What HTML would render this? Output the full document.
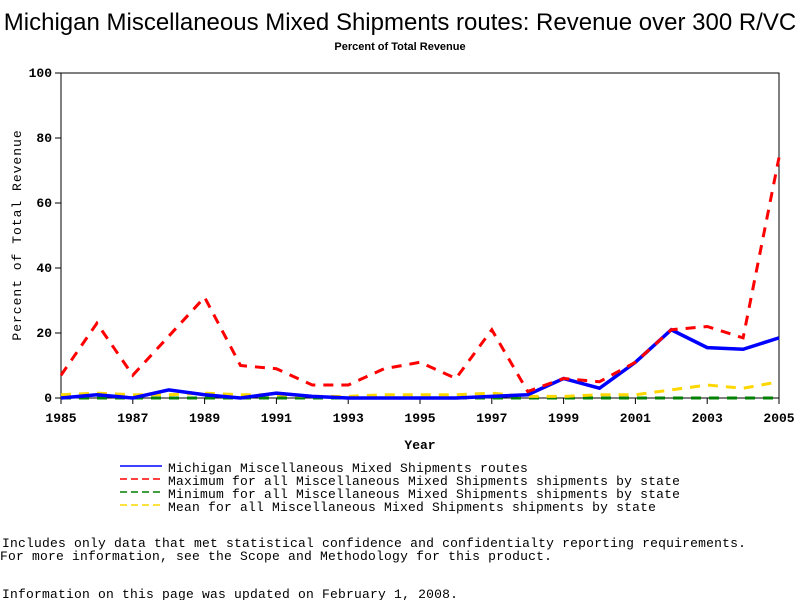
<!DOCTYPE html>
<html><head><meta charset="utf-8"><style>
body{margin:0;background:#fff;width:800px;height:600px;overflow:hidden}
svg{display:block}
.mono{font-family:"Liberation Mono","DejaVu Sans Mono",monospace;font-size:13px}
.wide{letter-spacing:0.2px}
</style></head><body>
<svg id="chart" width="800" height="600" xmlns="http://www.w3.org/2000/svg">
<text x="400" y="30" text-anchor="middle" font-family="Liberation Sans, sans-serif" font-size="24">Michigan Miscellaneous Mixed Shipments routes: Revenue over 300 R/VC</text>
<text x="400" y="50" text-anchor="middle" font-family="Liberation Sans, sans-serif" font-size="11" font-weight="bold">Percent of Total Revenue</text>
<rect x="61" y="73" width="718" height="325" fill="none" stroke="#000" stroke-width="1"/>
<g id="yticks"></g>
<g id="xticks"></g>
<text transform="translate(21,235) rotate(-90)" text-anchor="middle" class="mono" font-size="12" letter-spacing="1">Percent of Total Revenue</text>
<text x="420" y="449" text-anchor="middle" class="mono" font-weight="bold">Year</text>
<g id="series"></g>
<g class="mono wide">
<g><line x1="120" y1="466" x2="162" y2="466" stroke="#0000ff" stroke-width="1.5"/><text x="168" y="472">Michigan Miscellaneous Mixed Shipments routes</text></g>
<g><line x1="120" y1="479" x2="162" y2="479" stroke="#ff0000" stroke-width="1.5" stroke-dasharray="7,4"/><text x="168" y="485">Maximum for all Miscellaneous Mixed Shipments shipments by state</text></g>
<g><line x1="120" y1="492" x2="162" y2="492" stroke="#008000" stroke-width="1.5" stroke-dasharray="7,4"/><text x="168" y="498">Minimum for all Miscellaneous Mixed Shipments shipments by state</text></g>
<g><line x1="120" y1="505" x2="162" y2="505" stroke="#ffd700" stroke-width="1.5" stroke-dasharray="7,4"/><text x="168" y="511">Mean for all Miscellaneous Mixed Shipments shipments by state</text></g>
</g>
<text x="2" y="547" class="mono wide">Includes only data that met statistical confidence and confidentialty reporting requirements.</text>
<text x="0" y="560" class="mono wide">For more information, see the Scope and Methodology for this product.</text>
<text x="2" y="598" class="mono wide">Information on this page was updated on February 1, 2008.</text>
</svg>
<script>
const years=[1985,1986,1987,1988,1989,1990,1991,1992,1993,1994,1995,1996,1997,1998,1999,2000,2001,2002,2003,2004,2005];
const michigan=[0,1,0,2.5,1,0,1.5,0.5,0,0,0,0,0.5,1,6,3,11,21,15.5,15,18.5];
const maximum=[7,23,7,19,31,10,9,4,4,9,11,6,21,2,6,5,11,21,22,18.5,74];
const minimum=[0,0,0,0,0,0,0,0,0,0,0,0,0,0,0,0,0,0,0,0,0];
const mean=[1,1.5,1,1,1.5,1,1,0.5,0.5,1,1,1,1.5,0.5,0.5,1,1,2.5,4,3,5];
const yTicks=[0,20,40,60,80,100];
const xTickLabels=[1985,1987,1989,1991,1993,1995,1997,1999,2001,2003,2005];
const NS="http://www.w3.org/2000/svg";
const X=y=>61+(y-1985)*(718/20);
const Y=v=>398-v*3.25;
const yg=document.getElementById('yticks'),xg=document.getElementById('xticks'),sg=document.getElementById('series');
function mk(tag,attrs,parent){const e=document.createElementNS(NS,tag);for(const k in attrs)e.setAttribute(k,attrs[k]);parent.appendChild(e);return e;}
yTicks.forEach(t=>{
  const l=mk('line',{x1:55,x2:61,y1:Y(t),y2:Y(t),stroke:'#000'},yg);
  
  
  const tx=mk('text',{x:52,y:Y(t)+4,'text-anchor':'end','class':'mono','font-weight':'bold','font-size':'12'},yg);
  tx.textContent=t;
  
  
});
xTickLabels.forEach(t=>{
  const l=mk('line',{x1:X(t),x2:X(t),y1:398,y2:404,stroke:'#000'},xg);
  
  
  const tx=mk('text',{x:X(t),y:422,'text-anchor':'middle','class':'mono','font-weight':'bold','font-size':'12'},xg);
  tx.textContent=t;
  
  
});
function line(vals,color,w,dash,name){
  const p=mk('polyline',{points:vals.map((v,i)=>X(years[i])+','+Y(v)).join(' '),fill:'none',stroke:color,'stroke-width':w},sg);
  if(dash)p.setAttribute('stroke-dasharray',dash);
  
  
}
line(minimum,'#008000',3,'10,8','series-minimum');
line(mean,'#ffd700',3,'10,8','series-mean');
line(michigan,'#0000ff',3.5,null,'series-michigan');
line(maximum,'#ff0000',3,'10,8','series-maximum');
</script>
</body></html>
